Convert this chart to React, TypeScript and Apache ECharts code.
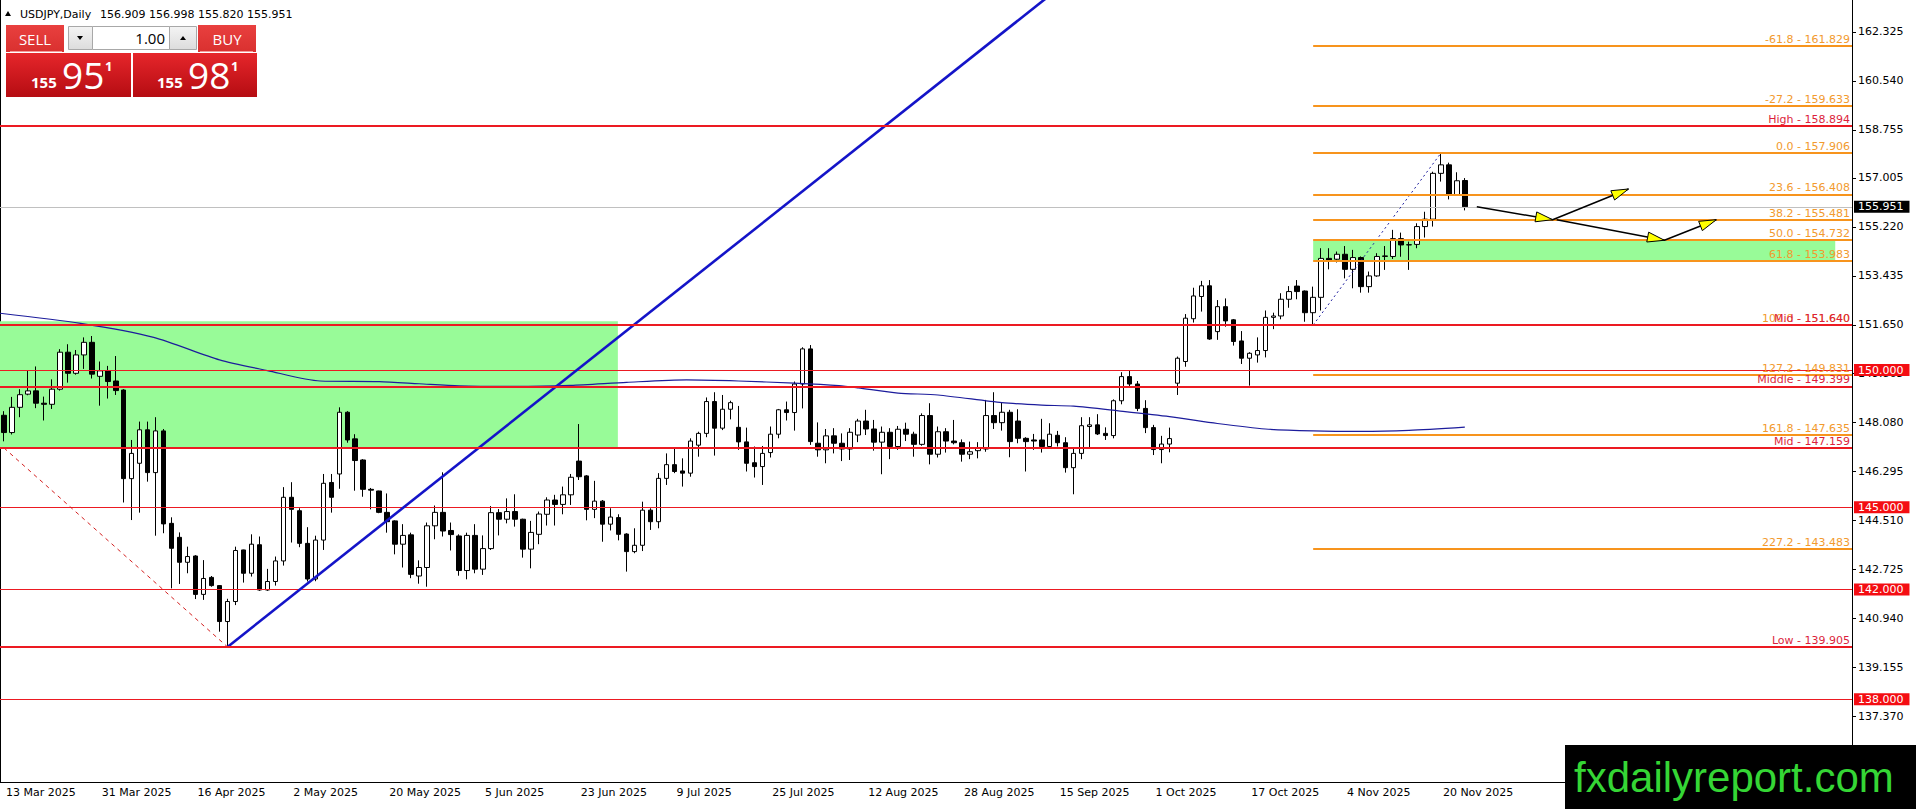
import { useEffect, useRef } from "react";
import * as echarts from "echarts";

const FONT = "DejaVu Sans";
const RED = "#ec1a22";
const LABEL_RED = "#dc1f3c";
const ORANGE = "#f7941d";
const ORANGE_TEXT = "#f29a2e";

// one slot per trading day, MT4 puts a date under every 12th bar
const SLOTS = 232;
const LABEL_STEP = 12;
const dateLabels = [
  "13 Mar 2025", "31 Mar 2025", "16 Apr 2025", "2 May 2025", "20 May 2025",
  "5 Jun 2025", "23 Jun 2025", "9 Jul 2025", "25 Jul 2025", "12 Aug 2025",
  "28 Aug 2025", "15 Sep 2025", "1 Oct 2025", "17 Oct 2025", "4 Nov 2025",
  "20 Nov 2025",
];

const Y_MIN = 134.98;
const Y_MAX = 163.49;
const priceTicks = [
  162.325, 160.54, 158.755, 157.005, 155.22, 153.435, 151.65, 149.865,
  148.08, 146.295, 144.51, 142.725, 140.94, 139.155, 137.37,
];

// daily bars [open, high, low, close]
const barsMar = [
  [148.35, 148.5, 147.4, 147.72], [147.72, 149.02, 147.65, 148.64],
  [148.64, 149.3, 148.28, 149.1], [149.12, 149.98, 149.08, 149.24],
  [149.24, 150.13, 148.61, 148.79], [148.79, 149.03, 148.16, 148.75],
  [148.75, 149.66, 148.58, 149.3], [149.3, 150.76, 149.25, 150.65],
  [150.65, 150.94, 149.54, 149.88], [149.88, 150.73, 149.83, 150.55],
  [150.55, 151.19, 150.04, 151.01], [151.01, 151.24, 149.69, 149.85],
  [149.77, 150.31, 148.7, 149.97],
];
const barsApr = [
  [149.97, 150.15, 148.96, 149.58], [149.6, 150.51, 149.09, 149.25],
  [149.27, 149.3, 145.17, 146.04], [146.04, 147.45, 144.53, 146.96],
  [146.6, 148.12, 144.8, 147.82], [147.82, 148.12, 145.93, 146.26],
  [146.26, 148.28, 143.96, 147.78], [147.78, 147.85, 144.05, 144.39],
  [144.41, 144.63, 142.04, 143.5], [143.9, 144.08, 142.2, 142.99],
  [142.99, 143.56, 142.59, 143.2], [143.22, 143.25, 141.65, 141.82],
  [141.82, 143.07, 141.62, 142.4], [142.44, 142.49, 142.1, 142.14],
  [142.14, 142.15, 140.46, 140.83], [140.83, 141.66, 139.905, 141.56],
  [141.56, 143.56, 141.43, 143.42], [143.44, 143.45, 142.25, 142.59],
  [142.59, 144.01, 142.47, 143.65], [143.63, 143.93, 141.95, 141.98],
  [141.98, 142.75, 141.95, 142.29], [142.29, 143.2, 142.14, 143.04],
];
const barsMay = [
  [143.04, 145.73, 142.87, 145.36], [145.36, 145.91, 143.71, 144.92],
  [144.87, 144.96, 143.54, 143.68], [143.68, 144.27, 142.29, 142.38],
  [142.38, 143.96, 142.3, 143.8], [143.8, 146.21, 143.44, 145.87],
  [145.9, 146.21, 144.8, 145.36], [146.21, 148.64, 145.67, 148.46],
  [148.46, 148.5, 147.35, 147.45], [147.49, 147.66, 145.6, 146.7],
  [146.72, 146.75, 145.38, 145.65], [145.65, 145.7, 144.92, 145.62],
  [145.59, 145.6, 144.78, 144.81], [144.81, 145.5, 144.07, 144.47],
  [144.5, 144.52, 143.28, 143.65], [143.65, 144.38, 142.8, 143.97],
  [143.99, 144.07, 142.41, 142.55], [142.49, 143.06, 142.21, 142.8],
  [142.8, 144.44, 142.1, 144.32], [144.32, 145.06, 143.83, 144.81],
  [144.81, 146.27, 143.93, 144.13], [144.15, 144.44, 143.42, 144.0],
];
const barsJun = [
  [143.95, 144.01, 142.5, 142.69], [142.69, 144.07, 142.37, 143.97],
  [143.97, 144.38, 142.59, 142.74], [142.74, 143.97, 142.53, 143.49],
  [143.49, 145.04, 143.44, 144.8], [144.8, 144.93, 143.97, 144.56],
  [144.56, 145.32, 144.41, 144.84], [144.84, 145.47, 144.29, 144.56],
  [144.56, 144.58, 143.16, 143.47], [143.47, 144.5, 142.77, 144.08],
  [144.01, 144.84, 143.65, 144.75], [144.74, 145.36, 144.33, 145.26],
  [145.26, 145.45, 144.33, 145.1], [145.1, 145.75, 144.74, 145.45],
  [145.45, 146.21, 145.08, 146.09], [146.68, 148.03, 145.99, 146.11],
  [146.14, 146.17, 144.52, 144.92], [144.92, 145.96, 144.6, 145.22],
  [145.22, 145.26, 143.74, 144.38], [144.38, 144.96, 144.15, 144.64],
  [144.62, 144.74, 143.79, 144.01],
];
const barsJul = [
  [144.02, 144.05, 142.65, 143.38], [143.38, 144.23, 143.32, 143.61],
  [143.61, 145.2, 143.4, 144.89], [144.89, 144.96, 144.17, 144.47],
  [144.47, 146.24, 144.23, 146.05], [146.05, 146.96, 145.81, 146.55],
  [146.55, 147.12, 146.24, 146.3], [146.32, 146.78, 145.75, 146.24],
  [146.24, 147.51, 146.11, 147.41], [147.26, 147.75, 146.84, 147.69],
  [147.69, 149.0, 147.55, 148.85], [148.85, 149.19, 146.88, 147.88],
  [147.88, 149.09, 147.81, 148.57], [148.57, 148.88, 148.2, 148.81],
  [147.91, 148.69, 147.09, 147.38], [147.38, 147.9, 146.3, 146.6],
  [146.62, 147.21, 146.08, 146.48], [146.48, 147.23, 145.81, 146.96],
  [146.99, 147.94, 146.81, 147.66], [147.66, 148.58, 147.51, 148.55],
  [148.55, 148.85, 148.16, 148.45], [148.45, 149.58, 147.79, 149.49],
  [149.49, 150.83, 148.6, 150.77],
];
const barsAug = [
  [150.77, 150.91, 147.27, 147.39], [147.33, 148.09, 146.84, 147.09],
  [147.09, 147.85, 146.6, 147.6], [147.6, 147.88, 146.96, 147.33],
  [147.33, 147.69, 146.68, 147.12], [147.12, 147.88, 146.72, 147.73],
  [147.63, 148.22, 147.37, 148.14], [148.14, 148.55, 147.63, 147.85],
  [147.85, 148.18, 147.06, 147.37], [147.37, 147.94, 146.2, 147.73],
  [147.73, 147.88, 146.75, 147.21], [147.21, 147.96, 147.09, 147.84],
  [147.84, 148.08, 147.41, 147.66], [147.66, 147.75, 146.84, 147.29],
  [147.29, 148.42, 147.24, 148.34], [148.34, 148.79, 146.56, 146.93],
  [146.93, 147.94, 146.81, 147.75], [147.75, 147.88, 146.99, 147.41],
  [147.41, 148.18, 147.29, 147.35], [147.35, 147.47, 146.66, 146.93],
  [146.93, 147.39, 146.75, 147.02],
];
const barsSep = [
  [147.06, 147.37, 146.78, 147.15], [147.12, 148.91, 147.02, 148.34],
  [148.34, 149.19, 147.85, 148.08], [148.08, 148.81, 147.79, 148.46],
  [148.46, 148.55, 146.82, 147.39], [148.14, 148.57, 147.33, 147.51],
  [147.51, 147.55, 146.3, 147.39], [147.45, 147.67, 147.09, 147.41],
  [147.45, 148.22, 146.99, 147.21], [147.21, 148.06, 147.15, 147.66],
  [147.62, 147.78, 147.21, 147.35], [147.35, 147.55, 146.26, 146.44],
  [146.44, 147.18, 145.47, 146.96], [146.96, 148.28, 146.75, 147.97],
  [147.94, 148.28, 147.17, 148.0], [148.0, 148.39, 147.63, 147.67],
  [147.69, 147.91, 147.45, 147.61], [147.61, 148.93, 147.51, 148.88],
  [148.88, 149.92, 148.75, 149.76], [149.76, 149.98, 149.39, 149.49],
  [149.49, 149.6, 148.5, 148.6], [148.6, 148.9, 147.7, 147.9],
];
const barsOct = [
  [147.9, 148.0, 146.9, 147.1], [147.1, 147.6, 146.6, 147.3],
  [147.3, 147.9, 147.0, 147.5], [149.52, 150.49, 149.09, 150.43],
  [150.31, 152.04, 150.12, 151.89], [151.87, 153.0, 151.73, 152.7],
  [152.68, 153.25, 152.13, 153.07], [153.07, 153.28, 151.1, 151.13],
  [151.4, 152.55, 151.1, 152.31], [152.31, 152.61, 151.58, 151.79],
  [151.83, 151.86, 150.89, 151.04], [151.06, 151.42, 150.22, 150.43],
  [150.43, 150.65, 149.43, 150.61], [150.55, 151.19, 150.27, 150.71],
  [150.71, 152.17, 150.46, 151.92], [151.92, 152.09, 151.49, 151.97],
  [151.97, 152.8, 151.85, 152.58], [152.58, 153.06, 152.27, 152.86],
  [153.06, 153.28, 152.58, 152.86], [152.88, 152.9, 151.76, 152.09],
  [152.09, 153.04, 151.64, 152.65], [152.65, 154.44, 152.17, 154.07],
  [154.07, 154.44, 153.67, 153.99],
];
const barsNov = [
  [154.04, 154.32, 153.92, 154.22], [154.22, 154.52, 153.34, 153.67],
  [153.67, 154.38, 152.98, 154.1], [154.1, 154.14, 152.82, 153.04],
  [153.04, 153.59, 152.82, 153.43], [153.43, 154.26, 153.4, 154.14],
  [154.14, 154.52, 153.65, 154.16], [154.14, 155.11, 154.05, 154.79],
  [154.79, 155.01, 154.13, 154.56], [154.56, 154.68, 153.65, 154.57],
  [154.58, 155.35, 154.44, 155.23], [155.23, 155.77, 154.83, 155.5],
  [155.5, 157.23, 155.23, 157.17], [157.17, 157.906, 156.87, 157.48],
  [157.48, 157.56, 156.22, 156.38], [156.38, 157.21, 156.35, 156.9],
  [156.909, 156.998, 155.82, 155.951],
];
const candles = [
  ...barsMar, ...barsApr, ...barsMay, ...barsJun, ...barsJul,
  ...barsAug, ...barsSep, ...barsOct, ...barsNov,
];

// moving average, [bar, price]
const maPoints = [
  [-0.5, 152.07], [9.6, 151.7], [18.75, 151.19], [27, 150.37], [33, 149.98],
  [39.6, 149.6], [47, 149.58], [52, 149.5], [57, 149.42], [64, 149.4],
  [71, 149.44], [78, 149.55], [85.5, 149.64], [92, 149.6], [99, 149.52],
  [104.6, 149.43], [107, 149.35], [112, 149.16], [117, 149.09],
  [125, 148.81], [130, 148.72], [134, 148.68], [139.6, 148.51],
  [146, 148.3], [152, 148.05], [158, 147.85], [164, 147.78], [170, 147.76],
  [176, 147.8], [183, 147.92],
];

const trendLine = [[28, 139.905], [133, 164.12]];
const swingDown = [[0, 147.159], [28, 139.905]];
const swingUp = [[164, 151.64], [180, 157.906]];

const fibStart = 164;
const fibRatios = ["-61.8", "-27.2", "0.0", "23.6", "38.2", "50.0", "61.8", "100.0", "127.2", "161.8", "227.2"];
const fibPrices = [161.829, 159.633, 157.906, 156.408, 155.481, 154.732, 153.983, 151.64, 149.831, 147.635, 143.483];
const fibZone = [153.983, 154.732, 229.4];
const rangeZone = [147.16, 151.78, 76.9];

const levelNames = ["High", "Mid", "Middle", "Mid", "Low"];
const levelPrices = [158.894, 151.64, 149.399, 147.159, 139.905];
const roundLevels = [150, 145, 142, 138];
const lastPrice = 155.951;

// projected paths drawn on the chart
const pathA = [[184.5, 155.95], [194, 155.48], [203.5, 156.6]];
const pathB = [[194.5, 155.48], [208, 154.73], [214.5, 155.48]];

const quote = ["156.909", "156.998", "155.820", "155.951"];

const showDate = (i: number) => i % LABEL_STEP === 0 && i / LABEL_STEP < dateLabels.length;

const buildOption = () => {
  const categories = Array.from({ length: SLOTS }, (_, i) => String(i));
  const candleData = candles.map(([o, h, l, c]) => [o, c, l, h]);

  const fibLines = fibPrices.map((p, i) => {
    const style = {
      lineStyle: { color: ORANGE, width: 2, type: "solid" },
      label: {
        show: true,
        position: "insideEndTop",
        formatter: `${fibRatios[i]} - ${p.toFixed(3)}`,
        color: ORANGE_TEXT,
        fontFamily: FONT,
        fontSize: 11,
        distance: [2, 1],
      },
    };
    return [
      { coord: [fibStart, p], ...style },
      { coord: [SLOTS - 0.5, p], ...style },
    ];
  });

  const namedLines = levelPrices.map((p, i) => ({
    yAxis: p,
    lineStyle: { color: RED, width: 2, type: "solid" },
    label: {
      show: true,
      position: "insideEndTop",
      formatter: `${levelNames[i]} - ${p.toFixed(3)}`,
      color: LABEL_RED,
      fontFamily: FONT,
      fontSize: 11,
      distance: [2, 1],
    },
  }));

  const roundLines = roundLevels.map((p) => ({
    yAxis: p,
    lineStyle: { color: RED, width: 1, type: "solid" },
    label: {
      show: true,
      position: "end",
      formatter: p.toFixed(3),
      color: "#fff",
      backgroundColor: "#f40d12",
      padding: [1, 6, 0, 4],
      fontFamily: FONT,
      fontSize: 11,
      distance: 2,
    },
  }));

  const bidLine = {
    yAxis: lastPrice,
    lineStyle: { color: "#c0c0c0", width: 1, type: "solid" },
    label: {
      show: true,
      position: "end",
      formatter: lastPrice.toFixed(3),
      color: "#fff",
      backgroundColor: "#000",
      padding: [1, 6, 0, 4],
      fontFamily: FONT,
      fontSize: 11,
      distance: 2,
    },
  };

  return {
    animation: false,
    backgroundColor: "#fff",
    grid: { left: 0, right: 64, top: 0, bottom: 27 },
    xAxis: [
      {
        type: "category",
        data: categories,
        boundaryGap: true,
        axisLine: { onZero: false, lineStyle: { color: "#000", width: 1 } },
        axisTick: {
          interval: (i: number) => showDate(i),
          alignWithLabel: true,
          length: 4,
          lineStyle: { color: "#000" },
        },
        axisLabel: {
          interval: (i: number) => showDate(i),
          formatter: (_v: string, i: number) => dateLabels[i / LABEL_STEP] ?? "",
          align: "left",
          margin: 5,
          padding: [0, 0, 0, 2],
          color: "#000",
          fontFamily: FONT,
          fontSize: 11,
        },
        splitLine: { show: false },
      },
      { type: "value", min: -0.5, max: SLOTS - 0.5, show: false },
    ],
    yAxis: [
      {
        type: "value",
        position: "right",
        min: Y_MIN,
        max: Y_MAX,
        splitLine: { show: false },
        axisLine: { show: true, onZero: false, lineStyle: { color: "#000" } },
        axisTick: { show: true, customValues: priceTicks, length: 4, lineStyle: { color: "#000" } },
        axisLabel: {
          customValues: priceTicks,
          formatter: (v: number) => v.toFixed(3),
          margin: 6,
          color: "#000",
          fontFamily: FONT,
          fontSize: 11,
        },
      },
      {
        type: "value",
        position: "left",
        min: 0,
        max: 1,
        axisLine: { show: true, onZero: false, lineStyle: { color: "#000" } },
        axisTick: { show: false },
        axisLabel: { show: false },
        splitLine: { show: false },
      },
    ],
    series: [
      {
        type: "candlestick",
        name: "USDJPY",
        data: candleData,
        barWidth: 5,
        z: 2,
        itemStyle: {
          color: "#fff",
          color0: "#000",
          borderColor: "#000",
          borderColor0: "#000",
          borderColorDoji: "#000",
          borderWidth: 1,
        },
      },
      {
        type: "line",
        name: "MA",
        xAxisIndex: 1,
        data: maPoints,
        smooth: 0.25,
        showSymbol: false,
        z: 3,
        lineStyle: { color: "#1c1c9c", width: 1.2 },
        markArea: {
          silent: true,
          z: 1,
          itemStyle: { color: "#98fb98", opacity: 1 },
          data: [
            [{ xAxis: -0.5, yAxis: rangeZone[1] }, { xAxis: rangeZone[2], yAxis: rangeZone[0] }],
            [{ xAxis: fibStart, yAxis: fibZone[1] }, { xAxis: fibZone[2], yAxis: fibZone[0] }],
          ],
        },
      },
      {
        type: "line",
        name: "trend",
        xAxisIndex: 1,
        data: trendLine,
        showSymbol: false,
        z: 4,
        lineStyle: { color: "#1414c8", width: 2.6 },
        markLine: {
          silent: true,
          symbol: ["none", "none"],
          z: 4,
          data: [bidLine, ...roundLines],
        },
      },
      {
        type: "line",
        name: "swing down",
        xAxisIndex: 1,
        data: swingDown,
        showSymbol: false,
        z: 4,
        lineStyle: { color: "#d42020", width: 1, type: [4, 4] },
      },
      {
        type: "line",
        name: "swing up",
        xAxisIndex: 1,
        data: swingUp,
        showSymbol: false,
        z: 4,
        lineStyle: { color: "#2020a0", width: 1, type: [2, 3] },
        markLine: {
          silent: true,
          symbol: ["none", "none"],
          z: 5,
          data: fibLines,
        },
      },
      {
        type: "line",
        name: "path A",
        xAxisIndex: 1,
        data: pathA,
        showSymbol: false,
        z: 6,
        lineStyle: { color: "#000", width: 1.5 },
        markLine: {
          silent: true,
          symbol: ["none", "none"],
          z: 6,
          data: namedLines,
        },
      },
      {
        type: "line",
        name: "path B",
        xAxisIndex: 1,
        data: pathB,
        showSymbol: false,
        z: 6,
        lineStyle: { color: "#000", width: 1.5 },
      },
    ],
  };
};

const arrowHead = (chart: echarts.ECharts, seriesIndex: number, from: number[], to: number[]) => {
  const a = chart.convertToPixel({ seriesIndex }, from) as number[];
  const b = chart.convertToPixel({ seriesIndex }, to) as number[];
  const dx = b[0] - a[0];
  const dy = b[1] - a[1];
  const len = Math.hypot(dx, dy) || 1;
  const ux = dx / len;
  const uy = dy / len;
  const L = 17;
  const W = 5;
  const bx = b[0] - ux * L;
  const by = b[1] - uy * L;
  return {
    type: "polygon",
    z: 30,
    shape: { points: [[b[0], b[1]], [bx - uy * W, by + ux * W], [bx + uy * W, by - ux * W]] },
    style: { fill: "#ffff00", stroke: "#000", lineWidth: 1 },
  };
};

const panelGraphics = () => {
  const btnRed = new echarts.graphic.LinearGradient(0, 0, 0, 1, [
    { offset: 0, color: "#e9403f" },
    { offset: 1, color: "#d9302f" },
  ]);
  const bigRed = new echarts.graphic.LinearGradient(0, 0, 0, 1, [
    { offset: 0, color: "#e6262b" },
    { offset: 1, color: "#b50c12" },
  ]);
  const grey = new echarts.graphic.LinearGradient(0, 0, 0, 1, [
    { offset: 0, color: "#f4f4f4" },
    { offset: 1, color: "#dcdcdc" },
  ]);
  const txt = (x: number, y: number, text: string, size: number, extra: object = {}) => ({
    type: "text",
    z: 101,
    x,
    y,
    style: {
      text,
      fill: "#fff",
      font: `${size}px "Open Sans"`,
      verticalAlign: "middle",
      ...extra,
    },
  });
  const bigQuote = (x0: number, small: string, big: string) => [
    txt(x0 + 25, 82, small, 15, { font: 'bold 15px "Open Sans"' }),
    txt(x0 + 56, 74, big, 37),
    txt(x0 + 99, 66, "1", 13, { font: 'bold 13px "Open Sans"' }),
  ];
  return [
    {
      type: "polygon",
      z: 100,
      shape: { points: [[5, 16], [11, 16], [8, 11]] },
      style: { fill: "#000" },
    },
    txt(20, 14, "USDJPY,Daily", 11, { fill: "#000", font: `11px "${FONT}"` }),
    txt(100, 14, quote.join(" "), 11, { fill: "#000", font: `11px "${FONT}"` }),
    { type: "rect", z: 100, shape: { x: 6, y: 25, width: 58, height: 27 }, style: { fill: btnRed } },
    { type: "line", z: 101, shape: { x1: 10, y1: 51.5, x2: 62, y2: 51.5 }, style: { stroke: "#f49a9a", lineWidth: 1 } },
    txt(35, 39, "SELL", 15, { align: "center" }),
    { type: "rect", z: 100, shape: { x: 68.5, y: 26.5, width: 24, height: 23 }, style: { fill: grey, stroke: "#a8a8a8" } },
    { type: "polygon", z: 101, shape: { points: [[77, 36], [83, 36], [80, 40]] }, style: { fill: "#000" } },
    { type: "rect", z: 100, shape: { x: 92.5, y: 26.5, width: 77, height: 23 }, style: { fill: "#fff", stroke: "#a8a8a8" } },
    txt(165, 38, "1.00", 15, { align: "right", fill: "#000" }),
    { type: "rect", z: 100, shape: { x: 169.5, y: 26.5, width: 27, height: 23 }, style: { fill: grey, stroke: "#a8a8a8" } },
    { type: "polygon", z: 101, shape: { points: [[180, 40], [186, 40], [183, 36]] }, style: { fill: "#000" } },
    { type: "rect", z: 100, shape: { x: 198, y: 25, width: 58, height: 27 }, style: { fill: btnRed } },
    { type: "line", z: 101, shape: { x1: 200, y1: 51.5, x2: 253, y2: 51.5 }, style: { stroke: "#f49a9a", lineWidth: 1 } },
    txt(227, 39, "BUY", 15, { align: "center" }),
    { type: "rect", z: 100, shape: { x: 6, y: 53, width: 125, height: 44 }, style: { fill: bigRed } },
    { type: "rect", z: 100, shape: { x: 133, y: 53, width: 124, height: 44 }, style: { fill: bigRed } },
    ...bigQuote(6, quote[3].slice(0, 3), "95"),
    ...bigQuote(132, "155", "98"),
    // site logo, bottom right
    { type: "rect", z: 100, shape: { x: 1565, y: 745, width: 351, height: 64 }, style: { fill: "#000" } },
    {
      type: "text",
      z: 101,
      x: 1574,
      y: 777,
      style: {
        text: "fxdailyreport.com",
        fill: "#35d635",
        font: '42px "Liberation Sans"',
        verticalAlign: "middle",
      },
    },
  ];
};

export default function App() {
  const ref = useRef<HTMLDivElement | null>(null);

  useEffect(() => {
    document.body.style.margin = "0";
    if (!ref.current) return;
    const chart = echarts.init(ref.current, undefined, { renderer: "svg" });
    chart.setOption(buildOption() as any);
    const heads = [
      arrowHead(chart, 5, pathA[0], pathA[1]),
      arrowHead(chart, 5, pathA[1], pathA[2]),
      arrowHead(chart, 6, pathB[0], pathB[1]),
      arrowHead(chart, 6, pathB[1], pathB[2]),
    ];
    chart.setOption({ graphic: [...panelGraphics(), ...heads] } as any);
    return () => chart.dispose();
  }, []);

  return <div ref={ref} style={{ width: 1916, height: 809 }} />;
}
